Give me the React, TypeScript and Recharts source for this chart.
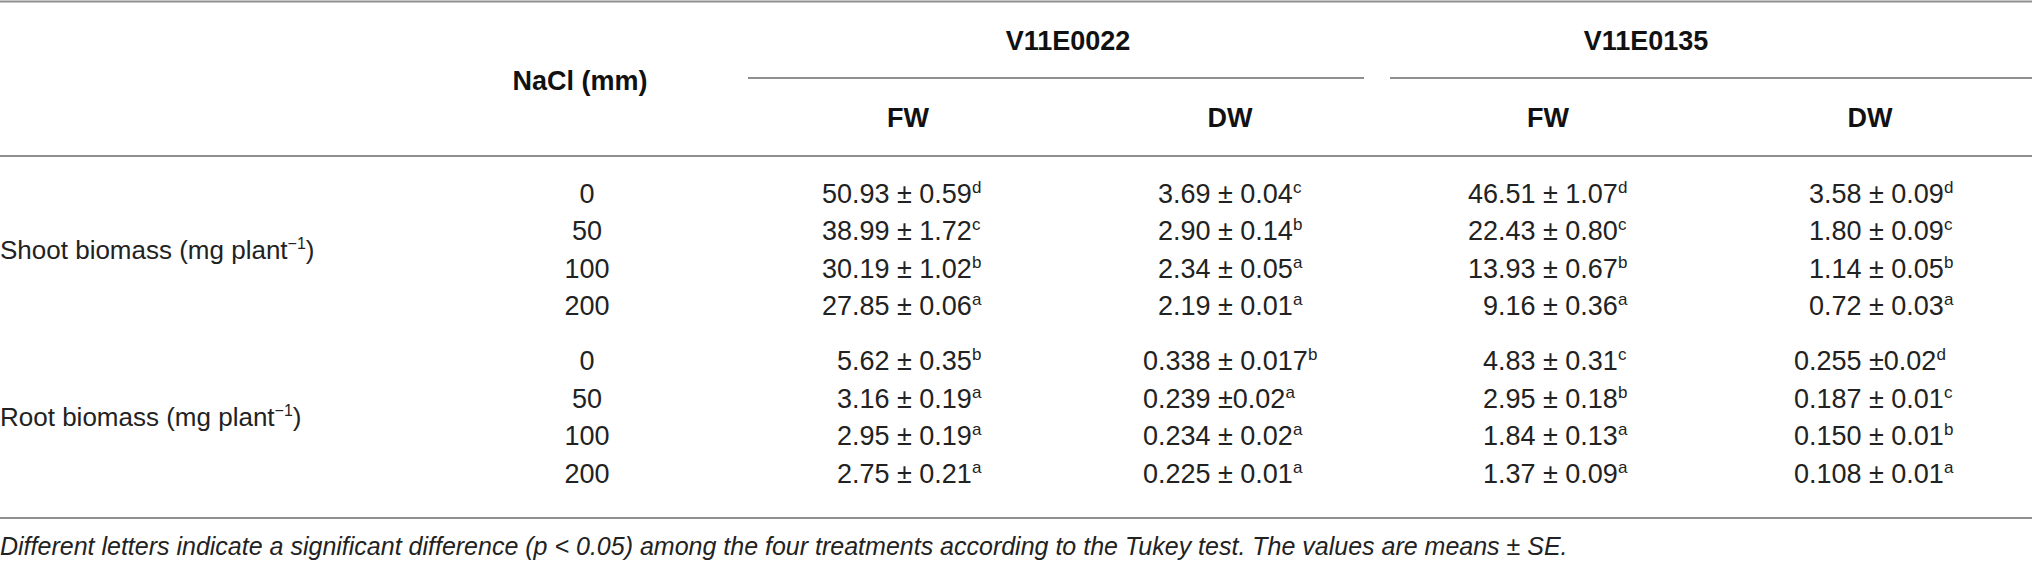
import React from 'react';
import { ScatterChart, Scatter, XAxis, YAxis, ReferenceLine } from 'recharts';

// ---------- data ----------
const groups = ['V11E0022', 'V11E0135'];
const measures = ['FW', 'DW'];
const naclHeader = 'NaCl (mm)';
const naclLevels = ['0', '50', '100', '200'];
const traitLabels = ['Shoot biomass (mg plant', 'Root biomass (mg plant'];
const traitUnitSup = '\u22121';

const shootV22FW = ['50.93 ± 0.59', '38.99 ± 1.72', '30.19 ± 1.02', '27.85 ± 0.06'];
const shootV22FWSig = ['d', 'c', 'b', 'a'];
const shootV22DW = ['3.69 ± 0.04', '2.90 ± 0.14', '2.34 ± 0.05', '2.19 ± 0.01'];
const shootV22DWSig = ['c', 'b', 'a', 'a'];
const shootV135FW = ['46.51 ± 1.07', '22.43 ± 0.80', '13.93 ± 0.67', '9.16 ± 0.36'];
const shootV135FWSig = ['d', 'c', 'b', 'a'];
const shootV135DW = ['3.58 ± 0.09', '1.80 ± 0.09', '1.14 ± 0.05', '0.72 ± 0.03'];
const shootV135DWSig = ['d', 'c', 'b', 'a'];

const rootV22FW = ['5.62 ± 0.35', '3.16 ± 0.19', '2.95 ± 0.19', '2.75 ± 0.21'];
const rootV22FWSig = ['b', 'a', 'a', 'a'];
const rootV22DW = ['0.338 ± 0.017', '0.239 ±0.02', '0.234 ± 0.02', '0.225 ± 0.01'];
const rootV22DWSig = ['b', 'a', 'a', 'a'];
const rootV135FW = ['4.83 ± 0.31', '2.95 ± 0.18', '1.84 ± 0.13', '1.37 ± 0.09'];
const rootV135FWSig = ['c', 'b', 'a', 'a'];
const rootV135DW = ['0.255 ±0.02', '0.187 ± 0.01', '0.150 ± 0.01', '0.108 ± 0.01'];
const rootV135DWSig = ['d', 'c', 'b', 'a'];

const footnote =
  'Different letters indicate a significant difference (p < 0.05) among the four treatments according to the Tukey test. The values are means ± SE.';

// ---------- layout ----------
const W = 2032;
const H = 563;
const L = {
  groupX: [1068, 1646],
  groupY: 40,
  naclX: 580,
  naclY: 80,
  subX: [908, 1230, 1548, 1870],
  subY: 117,
  pmX: [897, 1218, 1543, 1869],
  levelX: 587,
  rowStart: [193, 360.5],
  rowStep: 37.5,
  footY: 546,
  ruleTop: 1.5,
  ruleGroup: 78,
  ruleHead: 156,
  ruleBottom: 518,
  groupSeg: [
    [748, 1364],
    [1390, W],
  ],
};

const FONT = '"Liberation Sans", Arial, Helvetica, sans-serif';
const STYLE: Record<string, any> = {
  header: { size: 27, weight: 700, anchor: 'middle', style: 'normal', fill: '#111' },
  value: { size: 27, weight: 400, anchor: 'start', style: 'normal', fill: '#222' },
  level: { size: 27, weight: 400, anchor: 'middle', style: 'normal', fill: '#222' },
  label: { size: 26, weight: 400, anchor: 'start', style: 'normal', fill: '#222' },
  foot: { size: 25, weight: 400, anchor: 'start', style: 'italic', fill: '#222' },
};

type Cell = { x: number; y: number; text: string; sup?: string; kind: string };

const blocks = [
  [
    [shootV22FW, shootV22FWSig],
    [shootV22DW, shootV22DWSig],
    [shootV135FW, shootV135FWSig],
    [shootV135DW, shootV135DWSig],
  ],
  [
    [rootV22FW, rootV22FWSig],
    [rootV22DW, rootV22DWSig],
    [rootV135FW, rootV135FWSig],
    [rootV135DW, rootV135DWSig],
  ],
];

const cells: Cell[] = [];
groups.forEach((g, i) => cells.push({ x: L.groupX[i], y: L.groupY, text: g, kind: 'header' }));
cells.push({ x: L.naclX, y: L.naclY, text: naclHeader, kind: 'header' });
groups.forEach((_, gi) =>
  measures.forEach((m, mi) =>
    cells.push({ x: L.subX[gi * 2 + mi], y: L.subY, text: m, kind: 'header' })
  )
);
blocks.forEach((cols, bi) => {
  const y0 = L.rowStart[bi];
  const rowY = (r: number) => y0 + r * L.rowStep;
  cells.push({
    x: 0,
    y: (rowY(0) + rowY(naclLevels.length - 1)) / 2,
    text: traitLabels[bi],
    sup: traitUnitSup,
    kind: 'label',
  });
  naclLevels.forEach((lv, r) => cells.push({ x: L.levelX, y: rowY(r), text: lv, kind: 'level' }));
  cols.forEach(([vals, sig], ci) =>
    vals.forEach((v, r) =>
      cells.push({ x: L.pmX[ci], y: rowY(r), text: v, sup: sig[r], kind: 'value' })
    )
  );
});
cells.push({ x: 0, y: L.footY, text: footnote, kind: 'foot' });

const CellShape = (props: any) => {
  const { cx, cy, payload } = props;
  if (cx == null || cy == null || !payload) return null;
  const s = STYLE[payload.kind];
  const baseline = cy + s.size * 0.36;
  const common = {
    fontFamily: FONT,
    fontSize: s.size,
    fontWeight: s.weight,
    fontStyle: s.style,
    fill: s.fill,
  };
  const supSize = Math.round(s.size * 0.63);
  const supDy = -Math.round(s.size * 0.37);
  if (payload.kind === 'value') {
    const idx = payload.text.indexOf('±');
    const left = payload.text.slice(0, idx).trim();
    const right = payload.text.slice(idx);
    return (
      <g>
        <text x={cx - s.size * 0.278} y={baseline} textAnchor="end" {...common}>
          {left}
        </text>
        <text x={cx} y={baseline} textAnchor="start" {...common} style={{ whiteSpace: 'pre' }}>
          {right}
          <tspan dy={supDy} fontSize={supSize}>
            {payload.sup}
          </tspan>
        </text>
      </g>
    );
  }
  return (
    <text x={cx} y={baseline} textAnchor={s.anchor} {...common}>
      {payload.text}
      {payload.sup ? (
        <tspan dy={supDy} fontSize={supSize}>
          {payload.sup}
        </tspan>
      ) : null}
      {payload.kind === 'label' ? <tspan dy={-supDy}>)</tspan> : null}
    </text>
  );
};

const RULE = '#8f8f8f';

export default function App() {
  return (
    <div style={{ position: 'absolute', left: 0, top: 0, width: W, height: H, background: '#fff' }}>
      <ScatterChart width={W} height={H} margin={{ top: 0, right: 0, bottom: 0, left: 0 }}>
        <XAxis type="number" dataKey="x" domain={[0, W]} hide allowDataOverflow scale="linear" />
        <YAxis type="number" dataKey="y" domain={[0, H]} reversed hide allowDataOverflow scale="linear" />
        <ReferenceLine y={L.ruleTop} stroke={RULE} strokeWidth={2} ifOverflow="visible" />
        <ReferenceLine y={L.ruleHead} stroke={RULE} strokeWidth={2} ifOverflow="visible" />
        <ReferenceLine y={L.ruleBottom} stroke={RULE} strokeWidth={2} ifOverflow="visible" />
        {L.groupSeg.map(([a, b], i) => (
          <ReferenceLine
            key={i}
            segment={[
              { x: a, y: L.ruleGroup },
              { x: b, y: L.ruleGroup },
            ]}
            stroke={RULE}
            strokeWidth={2}
            ifOverflow="visible"
          />
        ))}
        <Scatter data={cells} shape={CellShape} isAnimationActive={false} />
      </ScatterChart>
    </div>
  );
}
